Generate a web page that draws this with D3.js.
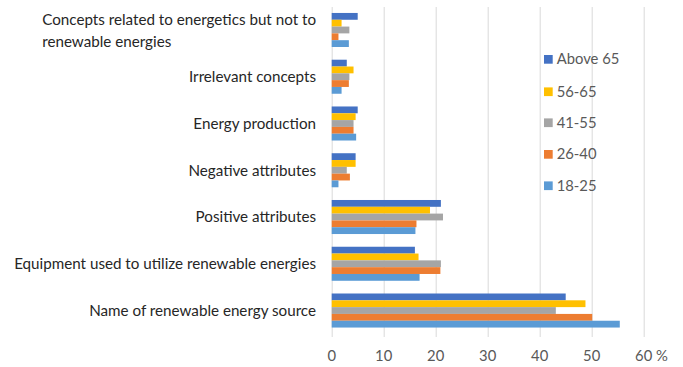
<!doctype html>
<html lang="en">
<head>
  <meta charset="utf-8">
  <title>Associations by age group</title>
  <style>
    body { margin: 0; background: #fff; }
    #chart svg { display: block; font-family: Lato, "Open Sans", sans-serif; }
    .grid line { stroke: #d9d9d9; stroke-width: 1; }
    .cat { fill: #262626; font-size: 15.2px; }
    .tick-label { fill: #595959; font-size: 14.8px; }
    .legend text { fill: #595959; font-size: 14.8px; }
  </style>
</head>
<body>
<div id="chart"></div>

<script src="https://d3js.org/d3.v7.min.js"></script>
<script>
  // categories from top to bottom
  const categories = [
    'Concepts related to energetics but not to renewable energies',
    'Irrelevant concepts',
    'Energy production',
    'Negative attributes',
    'Positive attributes',
    'Equipment used to utilize renewable energies',
    'Name of renewable energy source'
  ];

  // series, in the order they are stacked inside a group (top first)
  const series = ['Above 65', '56-65', '41-55', '26-40', '18-25'];
  const colors = ['#4472c4', '#ffc000', '#a5a5a5', '#ed7d31', '#5b9bd5'];

  // values in %, one array per series, same order as categories
  const above65 = [5.0, 2.9, 5.0, 4.6, 21.0, 16.0, 45.0];
  const age5665 = [1.9, 4.2, 4.6, 4.6, 18.9, 16.7, 48.8];
  const age4155 = [3.4, 3.4, 4.2, 2.9, 21.4, 21.0, 43.1];
  const age2640 = [1.3, 3.3, 4.2, 3.5, 16.3, 20.9, 50.1];
  const age1825 = [3.3, 1.9, 4.7, 1.3, 16.1, 16.9, 55.4];
  const values = [above65, age5665, age4155, age2640, age1825];

  const xTicks = [0, 10, 20, 30, 40, 50, 60];

  const width = 683, height = 367;

  const svg = d3.select('#chart').append('svg')
    .attr('width', width)
    .attr('height', height);

  // scales
  const x = d3.scaleLinear().domain([0, 60]).range([331.7, 643.7]);
  const y = d3.scaleBand().domain(categories).range([6.6, 333.9]);
  const yInner = d3.scaleBand().domain(series)
    .range([y.bandwidth() * 0.136, y.bandwidth() * 0.864]);

  // gridlines
  svg.append('g').attr('class', 'grid')
    .selectAll('line')
    .data(xTicks)
    .join('line')
    .attr('x1', d => x(d) + 0.5)
    .attr('x2', d => x(d) + 0.5)
    .attr('y1', 7)
    .attr('y2', 337);

  // tick labels, last one carries the unit
  const tickLabels = svg.append('g')
    .selectAll('text')
    .data(xTicks)
    .join('text')
    .attr('class', 'tick-label')
    .attr('y', 361)
    .text(d => d === 60 ? d + ' %' : d);
  tickLabels.each(function (d) {
    const t = d3.select(this);
    if (d === 60) {
      // center only the number on the gridline
      const probe = svg.append('text').attr('class', 'tick-label').text('60');
      const w = probe.node().getComputedTextLength();
      probe.remove();
      t.attr('x', x(d) - w / 2);
    } else {
      t.attr('x', x(d)).attr('text-anchor', 'middle');
    }
  });

  // bars
  series.forEach((s, i) => {
    svg.append('g')
      .selectAll('rect')
      .data(values[i])
      .join('rect')
      .attr('x', x(0))
      .attr('y', (d, j) => y(categories[j]) + yInner(s))
      .attr('width', d => x(d) - x(0))
      .attr('height', yInner.bandwidth())
      .attr('fill', colors[i]);
  });

  // category labels
  const labelRight = 316;
  categories.forEach((c, j) => {
    const cy = y(c) + y.bandwidth() / 2;
    if (j === 0) {
      // wrapped label, left aligned on the start of the first line
      const l1 = svg.append('text').attr('class', 'cat')
        .attr('x', labelRight).attr('y', cy - 10.5)
        .attr('text-anchor', 'end').attr('dy', '0.35em')
        .text('Concepts related to energetics but not to');
      const w = l1.node().getComputedTextLength();
      svg.append('text').attr('class', 'cat')
        .attr('x', labelRight - w).attr('y', cy + 11.5)
        .attr('dy', '0.35em')
        .text('renewable energies');
    } else {
      svg.append('text').attr('class', 'cat')
        .attr('x', labelRight).attr('y', cy)
        .attr('text-anchor', 'end').attr('dy', '0.35em')
        .text(c);
    }
  });

  // legend
  const legendY = [59.3, 91.7, 122.7, 154.3, 185.7];
  const legend = svg.append('g').attr('class', 'legend')
    .selectAll('g')
    .data(series)
    .join('g')
    .attr('transform', (d, i) => `translate(544, ${legendY[i]})`);
  legend.append('rect')
    .attr('x', 0).attr('y', -4.3)
    .attr('width', 8.7).attr('height', 8.7)
    .attr('fill', (d, i) => colors[i]);
  legend.append('text')
    .attr('x', 12.7).attr('dy', '0.35em')
    .text(d => d);
</script>
</body>
</html>
